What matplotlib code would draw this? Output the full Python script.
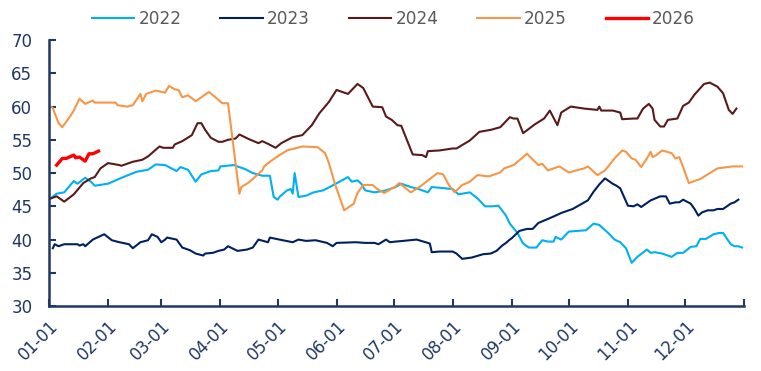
import matplotlib
matplotlib.use("Agg")
import matplotlib.pyplot as plt

month_starts = [0, 31, 59, 90, 120, 151, 181, 212, 243, 273, 304, 334, 365]
month_labels = ["01-01", "02-01", "03-01", "04-01", "05-01", "06-01",
                "07-01", "08-01", "09-01", "10-01", "11-01", "12-01"]

d2022 = [0, 4, 8, 13, 15, 19, 22, 24, 31, 39, 46, 52, 56, 61, 65, 67, 69, 73, 77, 80, 85, 89, 90, 97, 103, 107, 112, 116, 118, 120, 121, 125, 127, 128, 129, 131, 135, 139, 144, 150, 157, 159, 162, 164, 166, 171, 177, 182, 185, 190, 194, 199, 201, 212, 215, 221, 225, 229, 233, 236, 240, 242, 246, 249, 252, 256, 259, 262, 265, 266, 269, 273, 282, 286, 289, 294, 297, 300, 303, 306, 309, 314, 316, 318, 322, 327, 330, 333, 337, 340, 342, 345, 349, 352, 354, 358, 360, 362, 364]
v2022 = [46.0, 46.9, 47.1, 48.8, 48.4, 49.3, 48.7, 48.1, 48.4, 49.4, 50.2, 50.5, 51.3, 51.2, 50.6, 50.3, 50.9, 50.5, 48.7, 49.8, 50.3, 50.4, 51.0, 51.2, 50.6, 50.0, 49.6, 49.6, 46.4, 46.0, 46.4, 47.4, 47.6, 46.9, 50.0, 46.4, 46.6, 47.1, 47.4, 48.3, 49.4, 48.7, 48.9, 48.4, 47.4, 47.1, 47.4, 47.9, 48.4, 47.9, 47.6, 47.1, 47.9, 47.6, 46.8, 47.1, 46.2, 45.0, 45.0, 45.1, 43.6, 42.4, 41.0, 39.4, 38.8, 38.8, 39.9, 39.7, 39.7, 40.4, 40.0, 41.2, 41.4, 42.4, 42.2, 40.9, 40.0, 39.6, 38.7, 36.5, 37.4, 38.5, 38.0, 38.1, 37.9, 37.4, 38.0, 38.0, 38.9, 39.0, 40.1, 40.1, 40.8, 41.0, 41.0, 39.3, 39.0, 39.0, 38.8]

d2023 = [2, 3, 5, 8, 15, 16, 18, 19, 23, 29, 33, 37, 42, 44, 48, 52, 54, 57, 59, 61, 62, 67, 70, 74, 77, 81, 82, 86, 89, 92, 94, 99, 104, 107, 110, 115, 116, 121, 128, 131, 135, 140, 146, 149, 151, 161, 166, 171, 173, 177, 179, 182, 186, 193, 199, 200, 201, 205, 212, 214, 217, 222, 228, 232, 235, 238, 240, 242, 243, 247, 251, 254, 257, 262, 266, 269, 275, 283, 286, 289, 292, 296, 298, 300, 302, 304, 307, 309, 311, 316, 321, 324, 326, 329, 331, 333, 337, 339, 341, 343, 346, 349, 351, 354, 358, 360, 362]
v2023 = [38.7, 39.3, 39.0, 39.3, 39.3, 39.1, 39.3, 39.0, 40.0, 40.8, 39.9, 39.6, 39.3, 38.7, 39.6, 39.9, 40.8, 40.4, 39.6, 40.0, 40.3, 40.0, 38.8, 38.4, 37.9, 37.6, 37.9, 38.0, 38.3, 38.5, 39.0, 38.3, 38.5, 38.8, 40.0, 39.6, 40.3, 40.0, 39.6, 40.0, 39.8, 39.9, 39.5, 39.0, 39.5, 39.6, 39.5, 39.5, 39.3, 40.0, 39.6, 39.7, 39.8, 40.0, 39.5, 39.4, 38.1, 38.2, 38.2, 37.9, 37.1, 37.3, 37.8, 37.9, 38.3, 39.1, 39.5, 40.0, 40.2, 41.3, 41.6, 41.6, 42.5, 43.1, 43.6, 44.0, 44.6, 45.9, 47.2, 48.3, 49.2, 48.4, 48.1, 47.7, 46.4, 45.1, 45.0, 45.3, 44.9, 45.9, 46.5, 46.5, 45.4, 45.6, 45.6, 46.0, 45.4, 44.6, 43.6, 44.1, 44.4, 44.4, 44.6, 44.6, 45.4, 45.6, 46.0]

d2024 = [0, 4, 8, 13, 18, 22, 24, 27, 31, 37, 38, 44, 49, 52, 58, 60, 65, 66, 70, 75, 78, 80, 82, 85, 89, 91, 94, 98, 100, 105, 110, 112, 115, 119, 122, 128, 133, 138, 142, 147, 151, 157, 159, 162, 165, 170, 175, 177, 180, 183, 185, 191, 196, 198, 199, 205, 212, 214, 221, 226, 232, 237, 239, 242, 244, 246, 249, 255, 260, 263, 267, 269, 274, 281, 288, 289, 290, 296, 300, 301, 307, 309, 312, 315, 317, 318, 321, 323, 325, 330, 333, 336, 339, 344, 347, 351, 354, 357, 359, 361]
v2024 = [46.1, 46.5, 45.7, 46.8, 48.5, 49.2, 49.4, 50.7, 51.5, 51.2, 51.1, 51.7, 52.0, 52.5, 54.0, 53.8, 53.8, 54.3, 54.8, 55.7, 57.5, 57.5, 56.5, 55.3, 54.7, 54.7, 55.0, 55.2, 55.8, 55.1, 54.5, 54.8, 54.4, 53.8, 54.5, 55.4, 55.7, 57.2, 59.0, 60.7, 62.5, 61.9, 62.5, 63.4, 62.8, 60.0, 59.9, 58.5, 58.0, 57.2, 57.1, 52.8, 52.7, 52.4, 53.3, 53.4, 53.7, 53.7, 54.9, 56.2, 56.5, 56.9, 57.5, 58.4, 58.2, 58.2, 56.0, 57.3, 58.2, 59.4, 57.2, 59.1, 60.0, 59.7, 59.5, 60.0, 59.4, 59.4, 59.1, 58.1, 58.2, 58.2, 59.7, 60.4, 59.7, 58.0, 57.0, 57.0, 58.0, 58.2, 60.1, 60.6, 61.8, 63.4, 63.6, 63.0, 62.0, 59.5, 58.9, 59.7]

d2025 = [0, 2, 5, 7, 11, 13, 16, 19, 23, 24, 35, 36, 41, 44, 48, 49, 51, 56, 61, 63, 66, 68, 70, 73, 77, 79, 84, 87, 91, 94, 100, 101, 105, 110, 112, 113, 116, 121, 125, 133, 141, 145, 147, 150, 155, 160, 162, 165, 170, 172, 176, 182, 184, 190, 195, 204, 207, 210, 213, 217, 221, 225, 231, 237, 239, 244, 251, 257, 259, 262, 268, 273, 281, 283, 288, 292, 297, 301, 303, 306, 308, 311, 314, 316, 317, 319, 322, 327, 329, 331, 333, 336, 342, 351, 359, 364]
v2025 = [60.1, 59.8, 57.5, 56.9, 58.5, 59.4, 61.2, 60.4, 60.9, 60.6, 60.6, 60.2, 60.0, 60.2, 61.9, 60.8, 61.9, 62.4, 62.1, 63.1, 62.6, 62.5, 61.4, 61.7, 60.8, 61.2, 62.2, 61.5, 60.5, 60.5, 46.9, 47.9, 48.6, 49.9, 50.4, 51.0, 51.7, 52.7, 53.4, 54.0, 53.9, 53.0, 51.5, 48.5, 44.4, 45.4, 47.0, 48.2, 48.2, 47.7, 47.0, 48.0, 48.5, 47.1, 48.0, 50.0, 49.8, 48.2, 47.1, 48.2, 48.7, 49.7, 49.5, 50.1, 50.7, 51.2, 52.9, 51.2, 51.4, 50.4, 51.0, 50.1, 50.7, 51.0, 49.7, 50.4, 52.2, 53.4, 53.2, 52.2, 52.0, 50.9, 52.2, 53.2, 52.4, 52.7, 53.4, 53.0, 52.2, 52.4, 50.9, 48.5, 49.1, 50.7, 51.0, 51.0]

d2026 = [4, 7, 9, 13, 14, 16, 19, 21, 23, 26]
v2026 = [51.2, 52.2, 52.2, 52.7, 52.3, 52.4, 51.8, 52.9, 52.9, 53.3]

series = [
    ("2022", d2022, v2022, "#00B0F0", 1.5),
    ("2023", d2023, v2023, "#002060", 1.5),
    ("2024", d2024, v2024, "#5B1A1A", 1.5),
    ("2025", d2025, v2025, "#F79646", 1.5),
    ("2026", d2026, v2026, "#FF0000", 2.4),
]

navy = "#1F3864"
fig = plt.figure(figsize=(7.61, 3.71), dpi=100)
ax = fig.add_axes([0.0644, 0.175, 0.9133, 0.717])

for name, d, v, c, lw in series:
    ax.plot(d, v, color=c, lw=lw, label=name)

ax.set_xlim(0, 365)
ax.set_ylim(30, 70)
ax.set_yticks(range(30, 71, 5))
ax.set_xticks(month_starts)
ax.set_xticklabels(month_labels + [""], rotation=45, ha="right",
                   rotation_mode="anchor")
ax.tick_params(axis="both", direction="in", colors=navy, labelsize=12,
               length=5, width=1.5)
ax.tick_params(axis="x", pad=8)
ax.tick_params(axis="y", pad=12)
for s in ["top", "right"]:
    ax.spines[s].set_visible(False)
for s in ["left", "bottom"]:
    ax.spines[s].set_color(navy)
    ax.spines[s].set_linewidth(1.8)

leg = fig.legend(loc="center", bbox_to_anchor=(0.517, 0.95), ncol=5,
                 frameon=False, fontsize=12.2, handlelength=2.5,
                 handletextpad=0.25, columnspacing=2.3)
for t in leg.get_texts():
    t.set_color("#595959")

fig.savefig("out.png", dpi=100)
